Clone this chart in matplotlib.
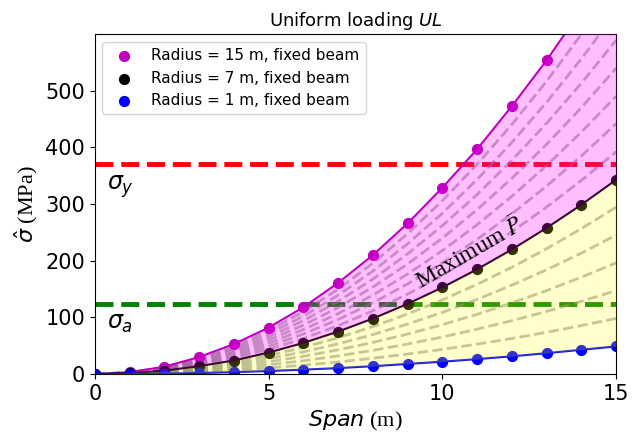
import numpy as np
import matplotlib
matplotlib.use("Agg")
import matplotlib.pyplot as plt

# span positions (m)
span = np.arange(0, 16)

# max stress (MPa), fixed beam, uniform loading
sigma_r15 = [0, 3.3, 13, 30, 53, 82, 118, 161, 210, 266, 329, 397, 473, 554, 643, 738]
sigma_r7 = [0, 1.5, 6, 14, 24, 38, 55, 75, 98, 124, 153, 185, 220, 258, 299, 343]
sigma_r1 = [0, 0.2, 0.9, 2, 3.5, 5.5, 7.9, 10.7, 14, 18, 22, 26.5, 31.5, 37, 43, 49]

# intermediate radii (dashed), lower band: R = 2..6
band_low = [
    [0, 0.4, 1.7, 3.9, 7.0, 10.9, 15.7, 21.4, 28.0, 35.4, 43.7, 52.9, 62.9, 73.9, 85.7, 98.3],
    [0, 0.7, 2.6, 5.9, 10.5, 16.4, 23.6, 32.1, 41.9, 53.1, 65.5, 79.3, 94.3, 110.7, 128.4, 147.4],
    [0, 0.9, 3.5, 7.9, 14.0, 21.8, 31.4, 42.8, 55.9, 70.7, 87.3, 105.6, 125.7, 147.5, 171.1, 196.4],
    [0, 1.1, 4.4, 9.8, 17.4, 27.3, 39.2, 53.4, 69.8, 88.3, 109.0, 131.9, 157.0, 184.2, 213.6, 245.3],
    [0, 1.3, 5.2, 11.8, 21.0, 32.8, 47.2, 64.2, 83.8, 106.1, 131.0, 158.5, 188.6, 221.4, 256.8, 294.8],
]
# upper band: R = 8..14
band_high = [
    [0, 1.7, 7.0, 15.7, 27.9, 43.6, 62.8, 85.5, 111.7, 141.3, 174.5, 211.1, 251.3, 294.9, 342.0, 392.6],
    [0, 2.0, 7.9, 17.7, 31.4, 49.1, 70.7, 96.3, 125.8, 159.2, 196.5, 237.8, 283.0, 332.1, 385.1, 442.1],
    [0, 2.2, 8.7, 19.6, 34.9, 54.5, 78.5, 106.8, 139.5, 176.6, 218.0, 263.8, 313.9, 368.4, 427.3, 490.5],
    [0, 2.4, 9.6, 21.6, 38.4, 60.0, 86.4, 117.6, 153.6, 194.4, 240.0, 290.4, 345.6, 405.6, 470.4, 540.0],
    [0, 2.6, 10.5, 23.6, 41.9, 65.5, 94.3, 128.4, 167.7, 212.2, 262.0, 317.0, 377.3, 442.8, 513.5, 589.5],
    [0, 2.8, 11.4, 25.6, 45.4, 71.0, 102.2, 139.2, 181.8, 230.0, 284.0, 343.6, 409.0, 480.0, 556.6, 639.0],
    [0, 3.1, 12.2, 27.5, 49.0, 76.5, 110.2, 149.9, 195.8, 247.9, 306.0, 370.3, 440.6, 517.1, 599.8, 688.5],
]

sigma_y = 370
sigma_a = 123

fig = plt.figure(figsize=(6.32, 4.32), dpi=100)
ax = fig.add_axes([0.150, 0.134, 0.825, 0.787])

ax.axhline(sigma_y, color='r', ls='--', lw=3.5, zorder=1)
ax.axhline(sigma_a, color='g', ls='--', lw=3.5, zorder=1)

for s in band_low + band_high:
    ax.plot(span, s, color='grey', ls='--', lw=2, alpha=0.55, zorder=1.5)

ax.plot(span, sigma_r15, color='m', lw=1.5, zorder=2)
ax.plot(span, sigma_r7, color='k', lw=1.5, zorder=2)
ax.plot(span, sigma_r1, color='b', lw=1.5, zorder=2)
ax.scatter(span, sigma_r15, s=50, color='m', label='Radius = 15 m, fixed beam', zorder=2)
ax.scatter(span, sigma_r7, s=50, color='k', label='Radius = 7 m, fixed beam', zorder=2)
ax.scatter(span, sigma_r1, s=50, color='b', label='Radius = 1 m, fixed beam', zorder=2)

# shaded bands drawn on top
ax.fill_between(span, sigma_r7, sigma_r15, color='magenta', alpha=0.25, lw=0, zorder=3)
ax.fill_between(span, sigma_r1, sigma_r7, color='yellow', alpha=0.2, lw=0, zorder=3)

ax.text(0.35, 325, r'$\sigma_y$', fontsize=17, zorder=4)
ax.text(0.35, 80, r'$\sigma_a$', fontsize=17, zorder=4)
ax.text(10.8, 213, r'Maximum $\bar{P}$', fontsize=17, rotation=30,
        family='Liberation Serif', math_fontfamily='stix',
        ha='center', va='center', rotation_mode='anchor', zorder=4)

ax.set_xlim(0, 15)
ax.set_ylim(0, 600)
ax.set_xticks([0, 5, 10, 15])
ax.set_yticks([0, 100, 200, 300, 400, 500])
ax.tick_params(labelsize=15)
ax.set_xlabel(r'$Span$ (m)', fontsize=16, family='Liberation Serif')
ax.set_ylabel(r'$\hat{\sigma}$ (MPa)', fontsize=16, family='Liberation Serif')
ax.set_title(r'Uniform loading $UL$', fontsize=13)
ax.legend(loc='upper left', fontsize=11)

fig.savefig('out.png', dpi=100)
